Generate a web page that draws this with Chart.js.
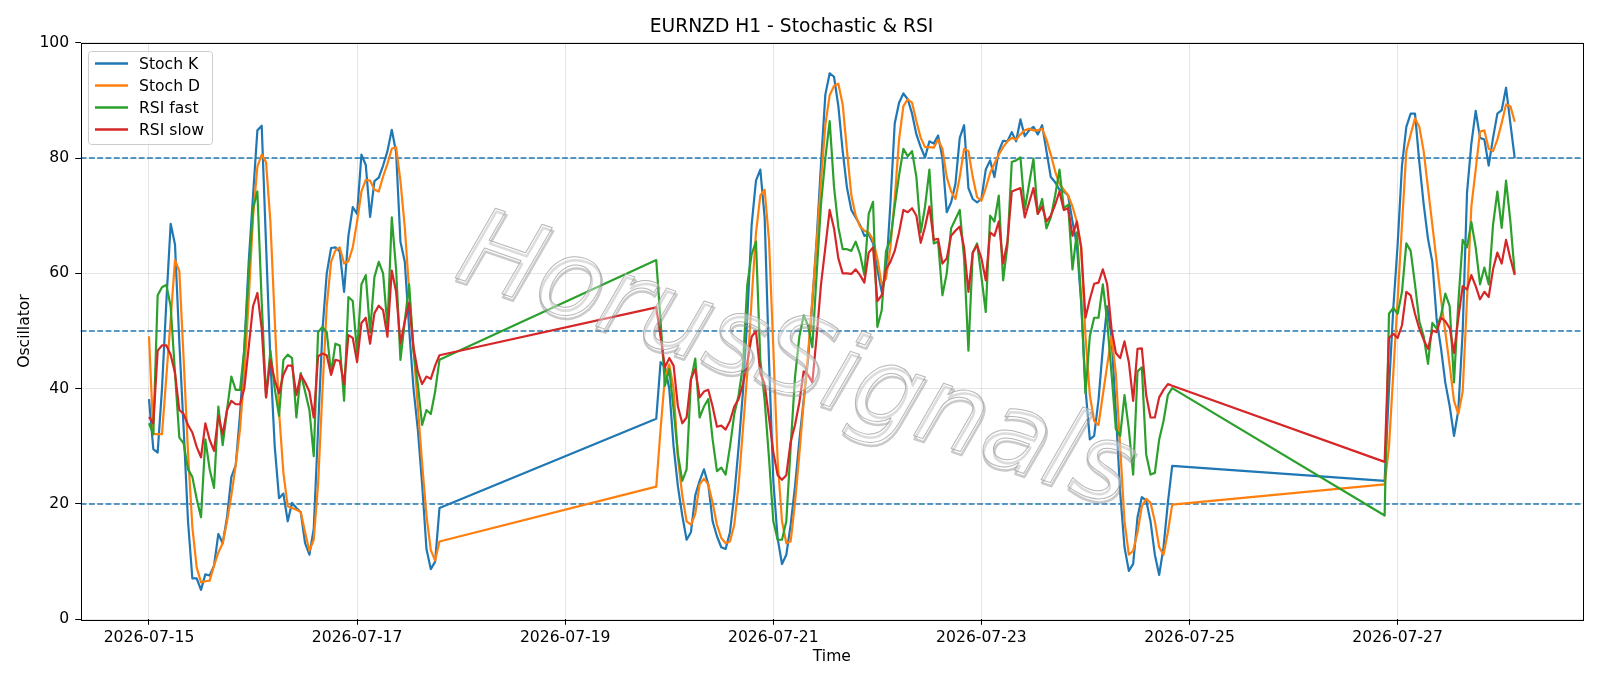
<!DOCTYPE html>
<html>
<head>
<meta charset="utf-8">
<title>EURNZD H1 - Stochastic & RSI</title>
<script src="https://cdn.jsdelivr.net/npm/chart.js@4.4.1/dist/chart.umd.min.js"></script>
<style>
  html, body { margin: 0; padding: 0; background: #fff; }
  #wrap { width: 1600px; height: 686px; }
</style>
</head>
<body>
<div id="wrap"><canvas id="oscChart" width="1600" height="686"></canvas></div>
<script>
// hourly bars, market closed between sessions
const sessionStarts = ['2026-07-15T00:00Z', '2026-07-19T21:00Z', '2026-07-26T21:00Z'];
const sessionLengths = [68, 120, 31];
const tickDates = ['2026-07-15', '2026-07-17', '2026-07-19', '2026-07-21', '2026-07-23', '2026-07-25', '2026-07-27'];
const refLevels = [20, 50, 80];

const stochK = [
  38.2, 29.5, 28.9, 40, 55, 68.6, 65, 48, 33, 17, 7.1, 7.1, 5.1, 7.8, 7.6, 9.3, 14.8, 13.2, 17.7, 24.7,
  26.7, 35.6, 47.2, 62, 73.5, 84.8, 85.6, 65, 45, 30, 21, 21.8, 17, 20.2, 19.3, 18.6, 13.2, 11.2, 15.7, 33,
  50, 60, 64.4, 64.5, 63.8, 56.8, 66.5, 71.5, 70.3, 80.6, 78.8, 69.8, 76, 76.6, 78.7, 81.2, 84.9, 81, 65.5, 62,
  50.4, 40.1, 33, 23.4, 12.2, 8.7, 10, 19.3,
  34.8, 44.6, 43.8, 40, 30, 23, 18, 13.8, 15.1, 21.5, 24, 26, 23.4, 17, 14.4, 12.5, 12.2, 15.1, 21.5, 29.9,
  39.5, 52.3, 68.4, 76.1, 78, 69.7, 45, 24, 14, 9.6, 11.2, 16.4, 23, 31, 38, 45, 55, 66, 79, 91,
  94.7, 94.1, 89, 81.2, 74.8, 71, 69.7, 68.4, 66.5, 66.8, 65.2, 60.7, 56.8, 60, 72, 86, 89.6, 91.2, 90.2, 87.7,
  84.1, 81.9, 80.1, 82.9, 82.5, 83.9, 80, 70.6, 72.3, 75.5, 83.5, 85.7, 74.8, 72.9, 72.3, 72.9, 78, 79.6, 76.7, 81.2,
  83, 82.9, 84.5, 82.9, 86.7, 83.8, 84.8, 85.4, 84.1, 85.7, 81.2, 76.7, 75.8, 74.5, 74.2, 73.5, 69, 65, 55, 40,
  31.2, 31.8, 38, 47, 54.3, 49, 36, 22, 12.5, 8.4, 9.6, 17.7, 21.2, 20.6, 17, 11.2, 7.7, 12.5, 20.2, 26.6,
  24, 40, 54, 65, 78.7, 85.4, 87.7, 87.7, 79.3, 72, 66, 62, 52, 47, 41, 37, 31.8, 36.3, 50, 74,
  82.5, 88.2, 83.5, 83.2, 78.7, 83.5, 87.7, 88.3, 92.2, 86, 80
];
const stochD = [
  49.1, 32.1, 32.1, 32.1, 42, 52, 62.3, 60.4, 45, 29, 16, 9, 6.4, 6.6, 6.7, 9.3, 11.6, 13.2, 17, 21.5,
  26.7, 33, 42.7, 55.5, 69.7, 78.5, 80.6, 79.3, 69, 52, 36, 25.4, 19.6, 19.3, 19, 18.6, 15.1, 11.9, 13.8, 23.4,
  39.5, 54.3, 62, 64, 64.5, 61.7, 62.1, 64.5, 69, 74.2, 76.2, 76.1, 74.5, 74.2, 76.8, 79, 81.6, 81.9, 76, 68,
  57, 47, 37, 27, 18, 12, 10.2, 13.5,
  23, 33, 42, 44.2, 40, 28, 21.5, 17, 16.4, 18.3, 23.4, 24.4, 23.4, 20.2, 16.4, 14.1, 13.2, 13.5, 16.4, 23.4,
  33, 42.7, 55.5, 67, 73.5, 74.5, 65.8, 47, 27.5, 17, 13.2, 13.5, 20.2, 28.6, 37.6, 45.9, 55.5, 65.2, 76.1, 85.7,
  90.9, 92.5, 92.9, 89.3, 81.2, 73.5, 70, 68.1, 67.4, 67.1, 65.8, 62.6, 58.1, 59.1, 64.5, 72.9, 83.2, 89, 90.2, 89.6,
  86.4, 83.5, 81.9, 81.9, 81.8, 83.2, 81.6, 76.7, 74.2, 72.9, 76.7, 81.6, 81.2, 76.7, 73.2, 72.6, 74.8, 77.4, 79, 80.6,
  81.9, 82.9, 83.5, 83.2, 84.1, 84.8, 85.1, 84.8, 84.8, 85.1, 83.2, 80.6, 77.7, 75.5, 74.5, 73.5, 71.6, 69, 64.5, 49.1,
  38.9, 34.4, 33.7, 38.9, 44, 49.1, 42.7, 29.9, 17, 11.2, 11.9, 15.1, 19.6, 20.9, 20.2, 17, 12.5, 11.2, 15.1, 19.9,
  23.4, 29.9, 42.7, 55.5, 68.4, 81.2, 84.1, 86.9, 85.4, 81.2, 74.8, 68.4, 62, 55.5, 49.8, 44, 37.9, 35.6, 39.5, 55.5,
  71.6, 78, 84.6, 84.8, 81.6, 81.2, 83.2, 86.1, 89.3, 89, 86.3
];
const rsiFast = [
  34, 32.1, 56.2, 57.6, 58, 54.3, 42.7, 31.5, 30.5, 26, 24.7, 20.9, 17.7, 31.2, 26, 22.8, 36.9, 30.2, 36.3, 42.1,
  39.8, 39.8, 46.9, 60, 71.3, 74.2, 55, 38.5, 46.6, 40, 35.3, 45, 45.9, 45.3, 35, 42.7, 39.5, 36.3, 28.3, 49.8,
  50.7, 49.8, 42.7, 47.8, 47.5, 37.9, 55.9, 55.2, 46.2, 58.1, 59.7, 49.8, 59.4, 62, 60, 50.7, 69.7, 60.7, 45, 51.7,
  58.1, 46.6, 40.8, 33.7, 36.3, 35.6, 39.5, 45,
  62.3, 51.7, 40.5, 43.4, 36.3, 28.6, 24, 26, 41.5, 45.2, 35, 36.9, 38.2, 31.2, 25.7, 26.3, 25.1, 29.9, 35.6, 38.9,
  44, 58.1, 63.3, 65.5, 45, 38, 28, 17, 13.8, 13.8, 17, 29.9, 42, 49, 52.7, 51, 47.2, 60, 72, 80,
  86.4, 75, 68, 64.2, 64.2, 63.9, 65.5, 63.3, 59.7, 70.3, 72.4, 50.7, 53.6, 63.9, 65.8, 71.6, 77, 81.6, 80.3, 81.2,
  76.7, 67.1, 71.6, 78, 65.2, 65.5, 56.2, 60, 67.8, 69.4, 71, 62.6, 46.6, 63.6, 65.2, 59.4, 53.3, 70, 69, 73.5,
  58.8, 64.8, 79.3, 79.6, 80.1, 71, 75.5, 79.9, 70.3, 72.9, 67.8, 69.7, 73.5, 78, 71.3, 71.9, 60.7, 67.1, 55.5, 39.2,
  49.1, 52.3, 52.3, 58.1, 51.7, 42.7, 33, 31.8, 38.9, 33, 25.1, 43, 43.7, 28.6, 25.1, 25.4, 31.2, 34.4, 38.9, 40.1,
  18, 53, 54, 53, 56.8, 65.2, 63.9, 58.1, 51.7, 49.1, 44.3, 51.4, 50.4, 52.7, 56.5, 54.3, 41.1, 55, 65.8, 64.5,
  68.9, 64.5, 58.1, 61, 58.1, 68.4, 74.2, 67.9, 76.1, 69, 60
];
const rsiSlow = [
  35.1, 34, 46.6, 47.5, 47.5, 45.9, 42.7, 36.3, 35.6, 33.7, 32.4, 29.9, 28.1, 34, 31.1, 29.2, 35.3, 32.1, 36.3, 37.9,
  37.3, 37.3, 40.1, 47.2, 54.3, 56.6, 50.4, 38.5, 45, 41.5, 39.2, 42.4, 44, 44, 38.9, 42.4, 41.1, 39.5, 35, 45.6,
  46.1, 45.8, 42.4, 45, 44.8, 40.8, 49.3, 48.8, 44.6, 51.4, 52.3, 47.8, 53.1, 54.4, 53.6, 49, 60.5, 56.8, 47.8, 51.7,
  54.9, 47.2, 43, 40.8, 42.1, 41.7, 44, 45.8,
  54.1, 49, 43.7, 45.3, 44, 36.9, 34, 35, 41.7, 43.4, 38.5, 39.5, 39.8, 36.9, 33.4, 33.6, 32.9, 34.4, 36.9, 38.2,
  40.8, 44.6, 49, 50, 42.7, 40.8, 35, 29, 25, 24.2, 25, 30.8, 33.7, 37.6, 43, 42.4, 41.1, 49.1, 58.1, 64.5,
  71, 67.8, 62.6, 60, 60, 59.9, 60.7, 59.7, 58.4, 63.6, 64.5, 55.2, 56.2, 60.7, 62, 63.9, 67.1, 71, 70.6, 71.3,
  70, 65.3, 68.1, 71.6, 65.8, 66, 61.7, 62.6, 66.5, 67.4, 68.1, 64.5, 56.8, 63.6, 64.9, 62.6, 58.8, 67.1, 66.5, 69,
  61.7, 65.5, 74.2, 74.5, 74.8, 69.7, 72.3, 74.8, 70.3, 71.6, 69, 70, 71.9, 74.2, 71, 71.3, 66.5, 69, 64.5, 52.3,
  55.5, 58.2, 58.4, 60.7, 58.1, 50.4, 46.2, 45.3, 48.2, 44.6, 37.9, 46.9, 47, 38.9, 35, 35, 38.5, 39.8, 40.8, 40.5,
  27.3, 48.8, 49.5, 48.8, 51, 56.8, 56.2, 53, 50.4, 48.5, 46.9, 50.1, 49.8, 52.3, 51.7, 50.5, 46.2, 52.3, 57.8, 57.2,
  59.7, 57.8, 55.5, 56.8, 55.9, 60.7, 63.6, 61.7, 65.8, 62.6, 59.7
];

// x positions in hours since the first bar
const HOUR = 3600000;
const origin = Date.parse(sessionStarts[0]);
const barHours = [];
sessionStarts.forEach((start, i) => {
  const first = (Date.parse(start) - origin) / HOUR;
  for (let k = 0; k < sessionLengths[i]; k++) barHours.push(first + k);
});
const tickHours = tickDates.map(d => (Date.parse(d + 'T00:00Z') - origin) / HOUR);
const span = barHours[barHours.length - 1] - barHours[0];
const xMin = barHours[0] - span * 0.05;
const xMax = barHours[barHours.length - 1] + span * 0.05;

function toPoints(values) {
  return values.map((v, i) => ({ x: barHours[i], y: v }));
}

Chart.defaults.font.family = '"DejaVu Sans", sans-serif';
Chart.defaults.font.size = 15.6;
Chart.defaults.color = '#000';

// matplotlib look: dashed levels, full frame, legend box, watermark
const mplExtras = {
  id: 'mplExtras',
  beforeDatasetsDraw(chart) {
    const { ctx, chartArea, scales } = chart;
    ctx.save();
    ctx.strokeStyle = '#1f77b4';
    ctx.lineWidth = 1.5;
    ctx.setLineDash([5.8, 2.5]);
    refLevels.forEach(level => {
      const y = scales.y.getPixelForValue(level);
      ctx.beginPath();
      ctx.moveTo(chartArea.left, y);
      ctx.lineTo(chartArea.right, y);
      ctx.stroke();
    });
    ctx.restore();
  },
  afterDatasetsDraw(chart) {
    const { ctx, chartArea } = chart;

    // watermark
    ctx.save();
    ctx.translate(795, 365);
    ctx.rotate(19 * Math.PI / 180);
    ctx.font = 'italic 100px "DejaVu Sans"';
    const size = 100 * 705 / ctx.measureText('HorusSignals').width;
    ctx.font = 'italic ' + size.toFixed(1) + 'px "DejaVu Sans"';
    ctx.textAlign = 'center';
    ctx.textBaseline = 'middle';
    ctx.lineJoin = 'round';
    ctx.strokeStyle = 'rgba(150,150,150,0.5)';
    ctx.lineWidth = 2.5;
    ctx.strokeText('HorusSignals', 2, 3);
    ctx.fillStyle = 'rgba(255,255,255,0.35)';
    ctx.fillText('HorusSignals', 0, 0);
    ctx.strokeStyle = 'rgba(165,165,165,0.8)';
    ctx.lineWidth = 1;
    ctx.strokeText('HorusSignals', 0, 0);
    ctx.restore();

    // frame
    ctx.save();
    ctx.strokeStyle = '#000';
    ctx.lineWidth = 1;
    ctx.strokeRect(Math.round(chartArea.left) + 0.5, Math.round(chartArea.top) + 0.5,
      Math.round(chartArea.right - chartArea.left), Math.round(chartArea.bottom - chartArea.top));
    ctx.restore();

    // legend
    ctx.save();
    const bx = 88, by = 51, bw = 124, bh = 93;
    ctx.beginPath();
    ctx.roundRect(bx + 0.5, by + 0.5, bw, bh, 3);
    ctx.fillStyle = 'rgba(255,255,255,0.8)';
    ctx.fill();
    ctx.strokeStyle = '#cccccc';
    ctx.lineWidth = 1;
    ctx.stroke();
    ctx.font = '15.6px "DejaVu Sans"';
    ctx.textBaseline = 'middle';
    ctx.fillStyle = '#000';
    chart.data.datasets.forEach((ds, i) => {
      const y = 63.5 + i * 22;
      ctx.strokeStyle = ds.borderColor;
      ctx.lineWidth = 2.3;
      ctx.beginPath();
      ctx.moveTo(95, y);
      ctx.lineTo(128, y);
      ctx.stroke();
      ctx.fillText(ds.label, 139, y + 1);
    });
    ctx.restore();
  }
};

const ctx = document.getElementById('oscChart').getContext('2d');
new Chart(ctx, {
  type: 'line',
  data: {
    datasets: [
      { label: 'Stoch K', data: toPoints(stochK), borderColor: '#1f77b4', order: 4 },
      { label: 'Stoch D', data: toPoints(stochD), borderColor: '#ff7f0e', order: 3 },
      { label: 'RSI fast', data: toPoints(rsiFast), borderColor: '#2ca02c', order: 2 },
      { label: 'RSI slow', data: toPoints(rsiSlow), borderColor: '#d62728', order: 1 }
    ]
  },
  options: {
    responsive: false,
    devicePixelRatio: 1,
    animation: false,
    layout: { padding: { left: 0, right: 17, top: 0, bottom: 0 } },
    elements: {
      line: { borderWidth: 2.2, tension: 0, fill: false, borderJoinStyle: 'round' },
      point: { radius: 0, hoverRadius: 0 }
    },
    plugins: {
      legend: { display: false },
      tooltip: { enabled: false },
      title: {
        display: true,
        text: 'EURNZD H1 - Stochastic & RSI',
        color: '#000',
        font: { size: 18.7, weight: 'normal' },
        padding: { top: 16, bottom: 4.3 }
      }
    },
    scales: {
      x: {
        type: 'linear',
        min: xMin,
        max: xMax,
        afterBuildTicks: scale => {
          scale.ticks = tickHours.map(v => ({ value: v }));
        },
        afterFit: scale => { scale.height = 66.7; },
        ticks: {
          callback: (value, index) => tickDates[index],
          autoSkip: false,
          maxRotation: 0,
          padding: 4,
          color: '#000'
        },
        grid: { color: 'rgba(0,0,0,0.1)', tickColor: '#000', tickLength: 5.5 },
        border: { display: false },
        title: { display: true, text: 'Time', color: '#000', padding: { top: 0, bottom: 20 } }
      },
      y: {
        min: 0,
        max: 100,
        afterFit: scale => { scale.width = 80.7; },
        ticks: { stepSize: 20, padding: 6, color: '#000' },
        grid: { color: 'rgba(0,0,0,0.1)', tickColor: '#000', tickLength: 5.5 },
        border: { display: false },
        title: { display: true, text: 'Oscillator', color: '#000', padding: { top: 16, bottom: 0 } }
      }
    }
  },
  plugins: [mplExtras]
});
</script>
</body>
</html>
